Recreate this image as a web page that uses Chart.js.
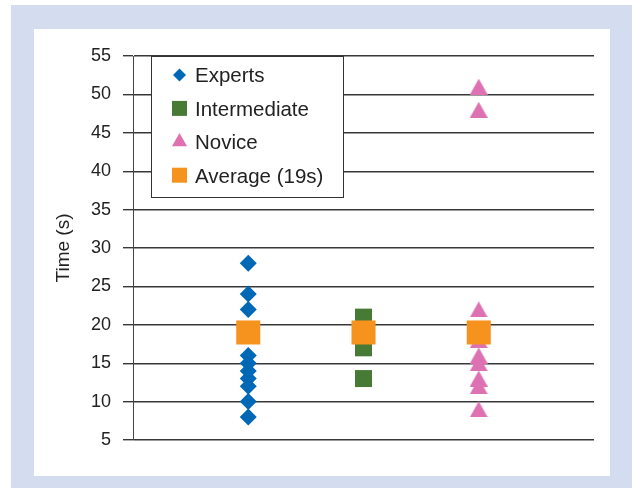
<!DOCTYPE html>
<html>
<head>
<meta charset="utf-8">
<script src="https://cdn.jsdelivr.net/npm/chart.js@4/dist/chart.umd.min.js"></script>
<style>
  html, body { margin: 0; padding: 0; background: #fff; }
  body { width: 632px; height: 488px; position: relative; overflow: hidden; }
  #frame { position: absolute; left: 11px; top: 5px; width: 621px; height: 483px; background: #d4ddef; }
  #inner { position: absolute; left: 34px; top: 29px; width: 576px; height: 447px; background: #fff; }
  #chart { position: absolute; left: 0; top: 0; }
</style>
</head>
<body>
<div id="frame"></div>
<div id="inner"></div>
<canvas id="chart" width="632" height="488"></canvas>
<script>
// values (time in seconds)
const groups = ['Experts', 'Intermediate', 'Novice'];
const expertTimes = [28, 24, 22, 16, 15, 14, 13, 12, 10, 8];
const intermediateTimes = [21, 17, 13];
const noviceTimes = [51, 48, 22, 18, 16, 15, 13, 12, 9];
const averageTime = 19;
const yTicks = [5, 10, 15, 20, 25, 30, 35, 40, 45, 50, 55];

const legendItems = [
  { label: 'Experts', color: '#0068b5', style: 'rectRot', r: 6.5 },
  { label: 'Intermediate', color: '#467a35', style: 'rect', r: 10.6 },
  { label: 'Novice', color: '#dd71b1', style: 'triangle', r: 8.7 },
  { label: 'Average (19s)', color: '#f6921e', style: 'rect', r: 10.6 }
];

const toPoints = (vals, x) => vals.map(v => ({ x: x, y: v }));

// triangle marker centred on its box (like the original), used as an image point style
function triangleImage(color, w, h) {
  const c = document.createElement('canvas');
  c.width = w; c.height = h;
  const g = c.getContext('2d');
  g.fillStyle = color;
  g.beginPath();
  g.moveTo(w / 2, 0);
  g.lineTo(w, h);
  g.lineTo(0, h);
  g.closePath();
  g.fill();
  return c;
}

// legend box drawn inside the plot, over the gridlines
const boxLegend = {
  id: 'boxLegend',
  afterDatasetsDraw(chart) {
    const ctx = chart.ctx;
    ctx.save();
    ctx.fillStyle = '#fff';
    ctx.strokeStyle = '#333';
    ctx.lineWidth = 1;
    ctx.fillRect(151, 56, 192, 141);
    ctx.strokeRect(151.5, 56.5, 192, 141);
    legendItems.forEach((it, i) => {
      const y = 75 + i * 33.4;
      ctx.fillStyle = it.color;
      Chart.helpers.drawPoint(ctx, { pointStyle: it.style, radius: it.r, rotation: 0, borderWidth: 0 }, 179.5, y);
      ctx.fillStyle = '#222';
      ctx.font = '20.5px "Liberation Sans", Arial, sans-serif';
      ctx.textBaseline = 'alphabetic';
      ctx.textAlign = 'left';
      ctx.fillText(it.label, 195, y + 7.3);
    });
    ctx.restore();
  }
};

const ctx = document.getElementById('chart').getContext('2d');
new Chart(ctx, {
  type: 'scatter',
  data: {
    datasets: [
      {
        label: 'Experts',
        data: toPoints(expertTimes, 1),
        backgroundColor: '#0068b5',
        pointStyle: 'rectRot',
        pointRadius: 8.5,
        borderWidth: 0,
        order: 1
      },
      {
        label: 'Intermediate',
        data: toPoints(intermediateTimes, 2),
        backgroundColor: '#467a35',
        pointStyle: 'rect',
        pointRadius: 12,
        borderWidth: 0,
        order: 2
      },
      {
        label: 'Novice',
        data: toPoints(noviceTimes, 3),
        backgroundColor: '#dd71b1',
        pointStyle: triangleImage('#dd71b1', 18, 16),
        pointRadius: 10,
        borderWidth: 0,
        order: 3
      },
      {
        label: 'Average (19s)',
        data: groups.map((g, i) => ({ x: i + 1, y: averageTime })),
        backgroundColor: '#f6921e',
        pointStyle: 'rect',
        pointRadius: 17,
        borderWidth: 0,
        order: 0
      }
    ]
  },
  options: {
    responsive: false,
    animation: false,
    events: [],
    layout: { padding: { left: 52, top: 56, right: 38, bottom: 48 } },
    plugins: {
      legend: { display: false },
      tooltip: { enabled: false }
    },
    scales: {
      x: { type: 'linear', min: 0, max: 4, display: false },
      y: {
        min: 5,
        max: 55,
        afterBuildTicks: (scale) => { scale.ticks = yTicks.map(v => ({ value: v })); },
        afterFit: (scale) => { scale.width = 81; },
        grid: { color: '#383838', lineWidth: 1.4, tickLength: 10 },
        border: { color: '#444', width: 1 },
        ticks: {
          padding: 12,
          color: '#222',
          font: { family: '"Liberation Sans", Arial, sans-serif', size: 18 }
        },
        title: {
          display: true,
          text: 'Time (s)',
          padding: 0,
          color: '#222',
          font: { family: '"Liberation Sans", Arial, sans-serif', size: 19 }
        }
      }
    }
  },
  plugins: [boxLegend]
});
</script>
</body>
</html>
